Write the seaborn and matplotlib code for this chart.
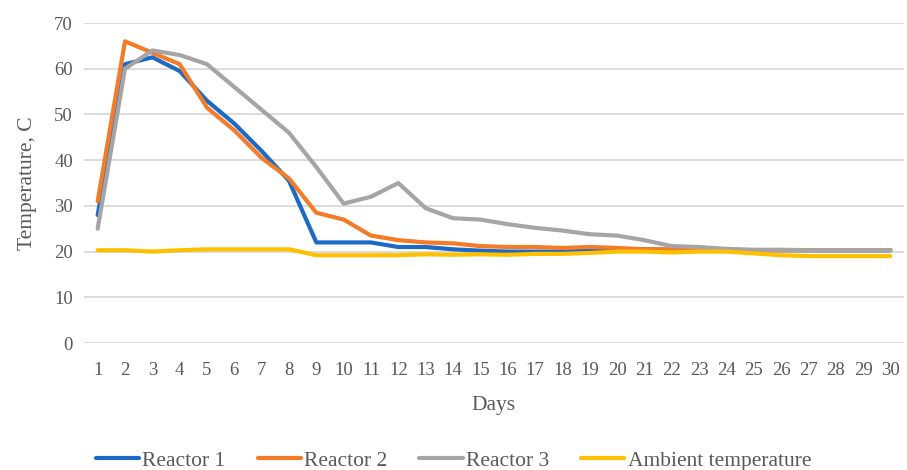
import matplotlib
matplotlib.use("Agg")
import matplotlib.pyplot as plt
import seaborn as sns
import pandas as pd
from matplotlib.lines import Line2D

days = list(range(1, 31))
reactor1 = [28, 61, 62.5, 59.5, 53, 48, 42, 35.5, 22, 22, 22, 21, 21, 20.5, 20.2, 20, 20, 20, 20.2, 20.5,
            20.5, 20.4, 20.3, 20.3, 20.3, 20.3, 20.3, 20.3, 20.3, 20.3]
reactor2 = [31, 66, 63.5, 61, 51.5, 46.5, 40.5, 36, 28.5, 27, 23.5, 22.5, 22, 21.8, 21.2, 21, 21, 20.8, 21, 20.8,
            20.5, 20.5, 20.4, 20.4, 20.3, 20.3, 20.3, 20.3, 20.3, 20.3]
reactor3 = [25, 60, 64, 63, 61, 56, 51, 46, 38.5, 30.5, 32, 35, 29.5, 27.3, 27, 26, 25.2, 24.6, 23.8, 23.5,
            22.5, 21.2, 21, 20.6, 20.4, 20.4, 20.3, 20.3, 20.3, 20.3]
ambient = [20.3, 20.3, 20, 20.3, 20.5, 20.5, 20.5, 20.5, 19.2, 19.2, 19.2, 19.2, 19.4, 19.3, 19.4, 19.3, 19.5, 19.5, 19.7, 20,
           20, 19.8, 20, 20, 19.6, 19.2, 19, 19, 19, 19]
series_names = ["Reactor 1", "Reactor 2", "Reactor 3", "Ambient temperature"]
colors = ["#1B6AC6", "#F47B28", "#A5A5A5", "#FFC000"]
y_ticks = [0, 10, 20, 30, 40, 50, 60, 70]

rows = []
for name, vals in zip(series_names, [reactor1, reactor2, reactor3, ambient]):
    for d, v in zip(days, vals):
        rows.append({"Days": d, "Temperature": v, "Series": name})
df = pd.DataFrame(rows)

sns.set_style("white")
plt.rcParams["font.family"] = ["Liberation Serif", "DejaVu Serif"]
text_color = "#595959"

fig = plt.figure(figsize=(9.07, 4.70), dpi=100)
ax = fig.add_axes([0.0926, 0.2702, 0.9041, 0.6808])

sns.lineplot(data=df, x="Days", y="Temperature", hue="Series", hue_order=series_names,
             palette=colors, linewidth=3.0, ax=ax, legend=False)

ax.set_xlim(0.5, 30.5)
ax.set_ylim(0, 70)
ax.set_yticks(y_ticks)
ax.set_xticks(days)
ax.yaxis.grid(True, color="#D9D9D9", linewidth=1.3)
ax.set_axisbelow(True)
for s in ["top", "right", "left", "bottom"]:
    ax.spines[s].set_visible(False)
ax.tick_params(axis="both", length=0, labelsize=13.5, colors=text_color, pad=8)
ax.tick_params(axis="x", pad=14)
ax.set_xlabel("Days", fontsize=15.5, color=text_color, labelpad=12)
ax.set_ylabel("Temperature, C", fontsize=15.5, color=text_color, labelpad=12)

handles = [Line2D([0], [0], color=c, linewidth=3.0) for c in colors]
fig.legend(handles, series_names, loc="center", bbox_to_anchor=(0.5, 0.02), ncol=4,
           frameon=False, fontsize=15.5, labelcolor=text_color, handlelength=2.0,
           handletextpad=0.15, columnspacing=1.5)

fig.savefig("out.png", dpi=100)
